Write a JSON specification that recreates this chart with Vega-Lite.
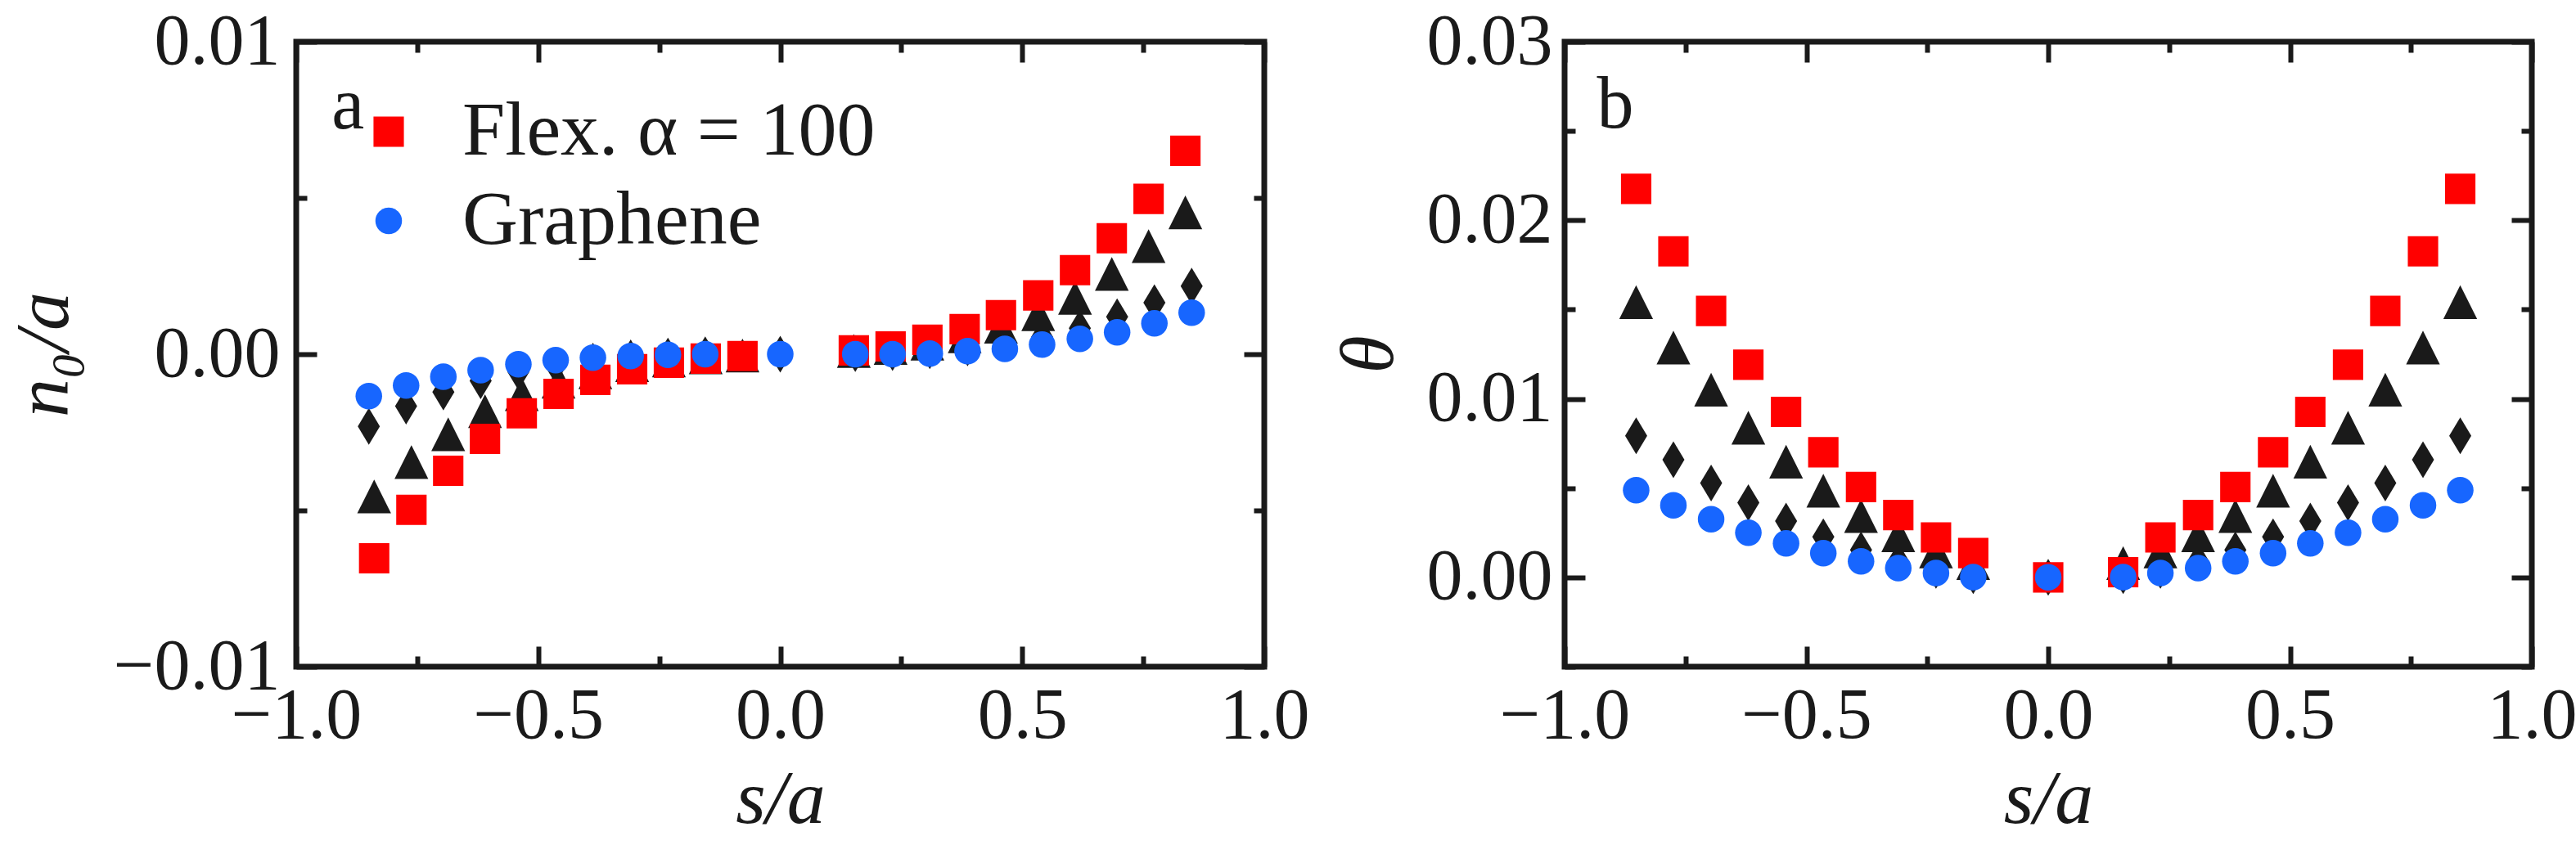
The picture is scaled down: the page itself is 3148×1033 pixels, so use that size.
{
  "$schema": "https://vega.github.io/schema/vega-lite/v6.json",
  "background": "white",
  "padding": {"left": 3, "top": 3, "right": 0, "bottom": 0},
  "spacing": 18,
  "config": {
    "font": "Liberation Serif",
    "view": {"stroke": "#1a1a1a", "strokeWidth": 7},
    "axis": {
      "domain": false,
      "grid": false,
      "tickColor": "#1a1a1a",
      "tickWidth": 6,
      "labelFont": "Liberation Serif",
      "labelFontSize": 88,
      "labelColor": "#1a1a1a",
      "labelFlush": false,
      "labelOverlap": false,
      "labelLimit": 0,
      "titleFont": "Liberation Serif",
      "titleFontSize": 94,
      "titleFontWeight": "normal",
      "titleFontStyle": "italic",
      "titleColor": "#1a1a1a"
    }
  },
  "datasets": {
    "a": [
      {"series": "Black diamonds", "s": -0.850, "value": -0.00231},
      {"series": "Black diamonds", "s": -0.773, "value": -0.00166},
      {"series": "Black diamonds", "s": -0.696, "value": -0.00121},
      {"series": "Black diamonds", "s": -0.619, "value": -0.00085},
      {"series": "Black diamonds", "s": -0.541, "value": -0.00056},
      {"series": "Black diamonds", "s": -0.464, "value": -0.00036},
      {"series": "Black diamonds", "s": -0.387, "value": -0.00022},
      {"series": "Black diamonds", "s": -0.309, "value": -0.00012},
      {"series": "Black diamonds", "s": -0.232, "value": -0.00006},
      {"series": "Black diamonds", "s": -0.155, "value": -0.00002},
      {"series": "Black diamonds", "s": 0.0, "value": 0.0},
      {"series": "Black diamonds", "s": 0.155, "value": 0.00002},
      {"series": "Black diamonds", "s": 0.232, "value": 0.00005},
      {"series": "Black diamonds", "s": 0.309, "value": 0.00011},
      {"series": "Black diamonds", "s": 0.387, "value": 0.0002},
      {"series": "Black diamonds", "s": 0.464, "value": 0.00035},
      {"series": "Black diamonds", "s": 0.541, "value": 0.00055},
      {"series": "Black diamonds", "s": 0.619, "value": 0.00083},
      {"series": "Black diamonds", "s": 0.696, "value": 0.0012},
      {"series": "Black diamonds", "s": 0.773, "value": 0.00165},
      {"series": "Black diamonds", "s": 0.850, "value": 0.00218},
      {"series": "Black triangles", "s": -0.839, "value": -0.00455},
      {"series": "Black triangles", "s": -0.762, "value": -0.00345},
      {"series": "Black triangles", "s": -0.686, "value": -0.00256},
      {"series": "Black triangles", "s": -0.610, "value": -0.00182},
      {"series": "Black triangles", "s": -0.534, "value": -0.00128},
      {"series": "Black triangles", "s": -0.458, "value": -0.00088},
      {"series": "Black triangles", "s": -0.382, "value": -0.00058},
      {"series": "Black triangles", "s": -0.306, "value": -0.00035},
      {"series": "Black triangles", "s": -0.230, "value": -0.0002},
      {"series": "Black triangles", "s": -0.154, "value": -0.0001},
      {"series": "Black triangles", "s": -0.078, "value": -0.00004},
      {"series": "Black triangles", "s": 0.152, "value": 0.0001},
      {"series": "Black triangles", "s": 0.228, "value": 0.0002},
      {"series": "Black triangles", "s": 0.304, "value": 0.00034},
      {"series": "Black triangles", "s": 0.381, "value": 0.00057},
      {"series": "Black triangles", "s": 0.456, "value": 0.00088},
      {"series": "Black triangles", "s": 0.533, "value": 0.00128},
      {"series": "Black triangles", "s": 0.609, "value": 0.0018},
      {"series": "Black triangles", "s": 0.685, "value": 0.00257},
      {"series": "Black triangles", "s": 0.761, "value": 0.00346},
      {"series": "Black triangles", "s": 0.837, "value": 0.00454},
      {"series": "Flex. α = 100", "s": -0.839, "value": -0.00653},
      {"series": "Flex. α = 100", "s": -0.762, "value": -0.00498},
      {"series": "Flex. α = 100", "s": -0.686, "value": -0.00373},
      {"series": "Flex. α = 100", "s": -0.610, "value": -0.00271},
      {"series": "Flex. α = 100", "s": -0.534, "value": -0.00189},
      {"series": "Flex. α = 100", "s": -0.458, "value": -0.00127},
      {"series": "Flex. α = 100", "s": -0.382, "value": -0.00082},
      {"series": "Flex. α = 100", "s": -0.306, "value": -0.00048},
      {"series": "Flex. α = 100", "s": -0.230, "value": -0.00027},
      {"series": "Flex. α = 100", "s": -0.154, "value": -0.00014},
      {"series": "Flex. α = 100", "s": -0.078, "value": -0.00006},
      {"series": "Flex. α = 100", "s": 0.152, "value": 0.00012},
      {"series": "Flex. α = 100", "s": 0.228, "value": 0.00025},
      {"series": "Flex. α = 100", "s": 0.304, "value": 0.00046},
      {"series": "Flex. α = 100", "s": 0.381, "value": 0.0008},
      {"series": "Flex. α = 100", "s": 0.456, "value": 0.00125},
      {"series": "Flex. α = 100", "s": 0.533, "value": 0.00188},
      {"series": "Flex. α = 100", "s": 0.609, "value": 0.00269},
      {"series": "Flex. α = 100", "s": 0.685, "value": 0.00371},
      {"series": "Flex. α = 100", "s": 0.761, "value": 0.00497},
      {"series": "Flex. α = 100", "s": 0.837, "value": 0.00651},
      {"series": "Graphene", "s": -0.850, "value": -0.00134},
      {"series": "Graphene", "s": -0.773, "value": -0.001},
      {"series": "Graphene", "s": -0.696, "value": -0.00072},
      {"series": "Graphene", "s": -0.619, "value": -0.00051},
      {"series": "Graphene", "s": -0.541, "value": -0.00032},
      {"series": "Graphene", "s": -0.464, "value": -0.00019},
      {"series": "Graphene", "s": -0.387, "value": -0.00011},
      {"series": "Graphene", "s": -0.309, "value": -0.00006},
      {"series": "Graphene", "s": -0.232, "value": -0.00002},
      {"series": "Graphene", "s": -0.155, "value": 0.0},
      {"series": "Graphene", "s": 0.0, "value": 0.0},
      {"series": "Graphene", "s": 0.155, "value": 0.0},
      {"series": "Graphene", "s": 0.232, "value": 0.0},
      {"series": "Graphene", "s": 0.309, "value": 0.00002},
      {"series": "Graphene", "s": 0.387, "value": 0.0001},
      {"series": "Graphene", "s": 0.464, "value": 0.00017},
      {"series": "Graphene", "s": 0.541, "value": 0.00031},
      {"series": "Graphene", "s": 0.619, "value": 0.00049},
      {"series": "Graphene", "s": 0.696, "value": 0.0007},
      {"series": "Graphene", "s": 0.773, "value": 0.00099},
      {"series": "Graphene", "s": 0.850, "value": 0.00133}
    ],
    "b": [
      {"series": "Black diamonds", "s": -0.852, "value": 0.00793},
      {"series": "Black diamonds", "s": -0.775, "value": 0.00659},
      {"series": "Black diamonds", "s": -0.697, "value": 0.00529},
      {"series": "Black diamonds", "s": -0.620, "value": 0.00418},
      {"series": "Black diamonds", "s": -0.542, "value": 0.00315},
      {"series": "Black diamonds", "s": -0.465, "value": 0.00227},
      {"series": "Black diamonds", "s": -0.387, "value": 0.00154},
      {"series": "Black diamonds", "s": -0.310, "value": 0.0009},
      {"series": "Black diamonds", "s": -0.232, "value": 0.0004},
      {"series": "Black diamonds", "s": -0.155, "value": 0.0001},
      {"series": "Black diamonds", "s": 0.0, "value": 0.0},
      {"series": "Black diamonds", "s": 0.155, "value": 0.0001},
      {"series": "Black diamonds", "s": 0.232, "value": 0.0004},
      {"series": "Black diamonds", "s": 0.310, "value": 0.0009},
      {"series": "Black diamonds", "s": 0.387, "value": 0.00154},
      {"series": "Black diamonds", "s": 0.465, "value": 0.00227},
      {"series": "Black diamonds", "s": 0.542, "value": 0.00315},
      {"series": "Black diamonds", "s": 0.620, "value": 0.00418},
      {"series": "Black diamonds", "s": 0.697, "value": 0.00529},
      {"series": "Black diamonds", "s": 0.775, "value": 0.00659},
      {"series": "Black diamonds", "s": 0.852, "value": 0.00793},
      {"series": "Black triangles", "s": -0.852, "value": 0.01542},
      {"series": "Black triangles", "s": -0.775, "value": 0.01287},
      {"series": "Black triangles", "s": -0.697, "value": 0.01051},
      {"series": "Black triangles", "s": -0.620, "value": 0.00838},
      {"series": "Black triangles", "s": -0.542, "value": 0.00648},
      {"series": "Black triangles", "s": -0.465, "value": 0.00485},
      {"series": "Black triangles", "s": -0.387, "value": 0.00343},
      {"series": "Black triangles", "s": -0.310, "value": 0.00236},
      {"series": "Black triangles", "s": -0.232, "value": 0.00145},
      {"series": "Black triangles", "s": -0.155, "value": 0.0008},
      {"series": "Black triangles", "s": 0.155, "value": 0.0008},
      {"series": "Black triangles", "s": 0.232, "value": 0.00145},
      {"series": "Black triangles", "s": 0.310, "value": 0.00236},
      {"series": "Black triangles", "s": 0.387, "value": 0.00343},
      {"series": "Black triangles", "s": 0.465, "value": 0.00485},
      {"series": "Black triangles", "s": 0.542, "value": 0.00648},
      {"series": "Black triangles", "s": 0.620, "value": 0.00838},
      {"series": "Black triangles", "s": 0.697, "value": 0.01051},
      {"series": "Black triangles", "s": 0.775, "value": 0.01287},
      {"series": "Black triangles", "s": 0.852, "value": 0.01542},
      {"series": "Flex. α = 100", "s": -0.852, "value": 0.02176},
      {"series": "Flex. α = 100", "s": -0.775, "value": 0.01826},
      {"series": "Flex. α = 100", "s": -0.697, "value": 0.01492},
      {"series": "Flex. α = 100", "s": -0.620, "value": 0.01191},
      {"series": "Flex. α = 100", "s": -0.542, "value": 0.00927},
      {"series": "Flex. α = 100", "s": -0.465, "value": 0.00701},
      {"series": "Flex. α = 100", "s": -0.387, "value": 0.00506},
      {"series": "Flex. α = 100", "s": -0.310, "value": 0.00349},
      {"series": "Flex. α = 100", "s": -0.232, "value": 0.00224},
      {"series": "Flex. α = 100", "s": -0.155, "value": 0.00136},
      {"series": "Flex. α = 100", "s": 0.0, "value": 0.0},
      {"series": "Flex. α = 100", "s": 0.155, "value": 0.00029},
      {"series": "Flex. α = 100", "s": 0.232, "value": 0.00224},
      {"series": "Flex. α = 100", "s": 0.310, "value": 0.00349},
      {"series": "Flex. α = 100", "s": 0.387, "value": 0.00506},
      {"series": "Flex. α = 100", "s": 0.465, "value": 0.00701},
      {"series": "Flex. α = 100", "s": 0.542, "value": 0.00927},
      {"series": "Flex. α = 100", "s": 0.620, "value": 0.01191},
      {"series": "Flex. α = 100", "s": 0.697, "value": 0.01492},
      {"series": "Flex. α = 100", "s": 0.775, "value": 0.01826},
      {"series": "Flex. α = 100", "s": 0.852, "value": 0.02176},
      {"series": "Graphene", "s": -0.852, "value": 0.00488},
      {"series": "Graphene", "s": -0.775, "value": 0.00404},
      {"series": "Graphene", "s": -0.697, "value": 0.00326},
      {"series": "Graphene", "s": -0.620, "value": 0.0025},
      {"series": "Graphene", "s": -0.542, "value": 0.00191},
      {"series": "Graphene", "s": -0.465, "value": 0.00136},
      {"series": "Graphene", "s": -0.387, "value": 0.0009},
      {"series": "Graphene", "s": -0.310, "value": 0.00052},
      {"series": "Graphene", "s": -0.232, "value": 0.00025},
      {"series": "Graphene", "s": -0.155, "value": 0.00002},
      {"series": "Graphene", "s": 0.0, "value": 0.0},
      {"series": "Graphene", "s": 0.155, "value": 0.00002},
      {"series": "Graphene", "s": 0.232, "value": 0.00025},
      {"series": "Graphene", "s": 0.310, "value": 0.00052},
      {"series": "Graphene", "s": 0.387, "value": 0.0009},
      {"series": "Graphene", "s": 0.465, "value": 0.00136},
      {"series": "Graphene", "s": 0.542, "value": 0.00191},
      {"series": "Graphene", "s": 0.620, "value": 0.0025},
      {"series": "Graphene", "s": 0.697, "value": 0.00326},
      {"series": "Graphene", "s": 0.775, "value": 0.00404},
      {"series": "Graphene", "s": 0.852, "value": 0.00488}
    ]
  },
  "resolve": {"scale": {"color": "independent", "shape": "independent", "size": "independent"}},
  "hconcat": [
    {
      "width": 1183,
      "height": 764,
      "data": {"name": "a"},
      "resolve": {"axis": {"x": "independent", "y": "independent"}},
      "layer": [
        {
          "mark": {"type": "point", "filled": true, "opacity": 1, "strokeWidth": 0},
          "encoding": {
            "x": {
              "field": "s", "type": "quantitative",
              "scale": {"domain": [-1, 1], "nice": false, "zero": false},
              "axis": {
                "orient": "bottom",
                "values": [-1, -0.75, -0.5, -0.25, 0, 0.25, 0.5, 0.75, 1],
                "format": ".1f",
                "labelExpr": "abs(datum.value*2-round(datum.value*2)) < 0.001 ? datum.label : ''",
                "tickSize": {"condition": {"test": "abs(datum.value*2-round(datum.value*2)) < 0.001", "value": -25}, "value": -13},
                "labelPadding": 41,
                "title": "s/a",
                "titlePadding": 0
              }
            },
            "y": {
              "field": "value", "type": "quantitative",
              "scale": {"domain": [-0.01, 0.01], "nice": false, "zero": false},
              "axis": {
                "orient": "left",
                "values": [-0.01, -0.005, 0, 0.005, 0.01],
                "format": ".2f",
                "labelExpr": "abs(datum.value*100-round(datum.value*100)) < 0.001 ? datum.label : ''",
                "tickSize": {"condition": {"test": "abs(datum.value*100-round(datum.value*100)) < 0.001", "value": -25}, "value": -13},
                "labelPadding": 45,
                "title": "n₀/a",
                "titlePadding": 60
              }
            },
            "color": {
              "field": "series", "type": "nominal",
              "scale": {"domain": ["Black diamonds", "Black triangles", "Flex. α = 100", "Graphene"], "range": ["#1a1a1a", "#1a1a1a", "#ff0000", "#1766ff"]},
              "legend": {
                "values": ["Flex. α = 100", "Graphene"],
                "orient": "none", "legendX": 66, "legendY": 63,
                "title": null, "padding": 0,
                "labelFont": "Liberation Serif", "labelFontSize": 94, "labelColor": "#1a1a1a", "labelLimit": 0,
                "labelOffset": 43, "rowPadding": 15, "symbolSize": 1681, "symbolStrokeWidth": 0
              }
            },
            "shape": {
              "field": "series", "type": "nominal",
              "scale": {"domain": ["Black diamonds", "Black triangles", "Flex. α = 100", "Graphene"], "range": ["M0,-1L0.6,0L0,1L-0.6,0Z", "M0,-1L1,1L-1,1Z", "square", "circle"]},
              "legend": {
                "values": ["Flex. α = 100", "Graphene"],
                "orient": "none", "legendX": 66, "legendY": 63,
                "title": null, "padding": 0,
                "labelFont": "Liberation Serif", "labelFontSize": 94, "labelColor": "#1a1a1a", "labelLimit": 0,
                "labelOffset": 43, "rowPadding": 15, "symbolSize": 1681, "symbolStrokeWidth": 0
              }
            },
            "size": {
              "field": "series", "type": "nominal",
              "scale": {"domain": ["Black diamonds", "Black triangles", "Flex. α = 100", "Graphene"], "range": [2025, 1056, 1681, 1681]},
              "legend": null
            }
          }
        },
        {
          "mark": {"type": "point", "opacity": 0},
          "encoding": {
            "x": {
              "field": "s", "type": "quantitative",
              "axis": {
                "orient": "top", "labels": false, "title": null,
                "values": [-1, -0.75, -0.5, -0.25, 0, 0.25, 0.5, 0.75, 1],
                "tickSize": {"condition": {"test": "abs(datum.value*2-round(datum.value*2)) < 0.001", "value": -25}, "value": -13}
              }
            },
            "y": {
              "field": "value", "type": "quantitative",
              "axis": {
                "orient": "right", "labels": false, "title": null,
                "values": [-0.01, -0.005, 0, 0.005, 0.01],
                "tickSize": {"condition": {"test": "abs(datum.value*100-round(datum.value*100)) < 0.001", "value": -25}, "value": -13}
              }
            }
          }
        },
        {
          "data": {"values": [{"label": "a", "s": -0.893, "value": 0.00723}]},
          "mark": {"type": "text", "fontSize": 90, "baseline": "alphabetic", "align": "center", "color": "#1a1a1a", "font": "Liberation Serif"},
          "encoding": {
            "x": {"field": "s", "type": "quantitative", "axis": null},
            "y": {"field": "value", "type": "quantitative", "axis": null},
            "text": {"field": "label"}
          }
        }
      ]
    },
    {
      "width": 1182,
      "height": 764,
      "data": {"name": "b"},
      "resolve": {"axis": {"x": "independent", "y": "independent"}},
      "layer": [
        {
          "mark": {"type": "point", "filled": true, "opacity": 1, "strokeWidth": 0},
          "encoding": {
            "x": {
              "field": "s", "type": "quantitative",
              "scale": {"domain": [-1, 1], "nice": false, "zero": false},
              "axis": {
                "orient": "bottom",
                "values": [-1, -0.75, -0.5, -0.25, 0, 0.25, 0.5, 0.75, 1],
                "format": ".1f",
                "labelExpr": "abs(datum.value*2-round(datum.value*2)) < 0.001 ? datum.label : ''",
                "tickSize": {"condition": {"test": "abs(datum.value*2-round(datum.value*2)) < 0.001", "value": -25}, "value": -13},
                "labelPadding": 41,
                "title": "s/a",
                "titlePadding": 0
              }
            },
            "y": {
              "field": "value", "type": "quantitative",
              "scale": {"domain": [-0.005, 0.03], "nice": false, "zero": false},
              "axis": {
                "orient": "left",
                "values": [-0.005, 0, 0.005, 0.01, 0.015, 0.02, 0.025, 0.03],
                "format": ".2f",
                "labelExpr": "abs(datum.value*100-round(datum.value*100)) < 0.001 ? datum.label : ''",
                "tickSize": {"condition": {"test": "abs(datum.value*100-round(datum.value*100)) < 0.001", "value": -25}, "value": -13},
                "labelPadding": 40,
                "title": "θ",
                "titlePadding": 22
              }
            },
            "color": {
              "field": "series", "type": "nominal",
              "scale": {"domain": ["Black diamonds", "Black triangles", "Flex. α = 100", "Graphene"], "range": ["#1a1a1a", "#1a1a1a", "#ff0000", "#1766ff"]},
              "legend": null
            },
            "shape": {
              "field": "series", "type": "nominal",
              "scale": {"domain": ["Black diamonds", "Black triangles", "Flex. α = 100", "Graphene"], "range": ["M0,-1L0.6,0L0,1L-0.6,0Z", "M0,-1L1,1L-1,1Z", "square", "circle"]},
              "legend": null
            },
            "size": {
              "field": "series", "type": "nominal",
              "scale": {"domain": ["Black diamonds", "Black triangles", "Flex. α = 100", "Graphene"], "range": [2025, 1056, 1681, 1681]},
              "legend": null
            }
          }
        },
        {
          "mark": {"type": "point", "opacity": 0},
          "encoding": {
            "x": {
              "field": "s", "type": "quantitative",
              "axis": {
                "orient": "top", "labels": false, "title": null,
                "values": [-1, -0.75, -0.5, -0.25, 0, 0.25, 0.5, 0.75, 1],
                "tickSize": {"condition": {"test": "abs(datum.value*2-round(datum.value*2)) < 0.001", "value": -25}, "value": -13}
              }
            },
            "y": {
              "field": "value", "type": "quantitative",
              "axis": {
                "orient": "right", "labels": false, "title": null,
                "values": [-0.005, 0, 0.005, 0.01, 0.015, 0.02, 0.025, 0.03],
                "tickSize": {"condition": {"test": "abs(datum.value*100-round(datum.value*100)) < 0.001", "value": -25}, "value": -13}
              }
            }
          }
        },
        {
          "data": {"values": [{"label": "b", "s": -0.895, "value": 0.0252}]},
          "mark": {"type": "text", "fontSize": 90, "baseline": "alphabetic", "align": "center", "color": "#1a1a1a", "font": "Liberation Serif"},
          "encoding": {
            "x": {"field": "s", "type": "quantitative", "axis": null},
            "y": {"field": "value", "type": "quantitative", "axis": null},
            "text": {"field": "label"}
          }
        }
      ]
    }
  ]
}
